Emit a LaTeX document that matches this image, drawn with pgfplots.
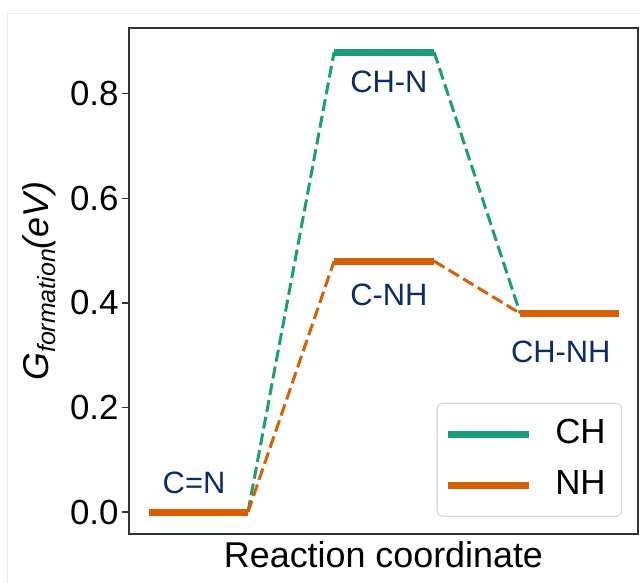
\documentclass[border=0pt]{standalone}
\usepackage{fontspec}
\setmainfont{Liberation Sans}
\usepackage{pgfplots}
\pgfplotsset{compat=1.18}

\definecolor{chgreen}{HTML}{1B9E77}
\definecolor{nhorange}{HTML}{D95F02}
\definecolor{statelabel}{HTML}{0A2C6E}
\definecolor{spine}{HTML}{333333}

\begin{document}
\begin{tikzpicture}[x=1bp,y=1bp]
  \begin{axis}[
    name=ax,
    scale only axis, width=509bp, height=506bp,
    xmin=-0.202, xmax=4.94,
    ymin=-0.042, ymax=0.926,
    axis line style={spine, line width=1.3bp},
    xtick=\empty,
    ytick={0,0.2,0.4,0.6,0.8},
    yticklabel style={/pgf/number format/fixed, /pgf/number format/fixed zerofill,
      /pgf/number format/precision=1, font=\fontsize{35}{42}\selectfont},
    /pgf/number format/assume math mode=true,
    ytick pos=left, tick align=outside,
    major tick length=7bp,
    tick style={spine, line width=1.3bp},
    every axis y label/.style={at={(axis description cs:-0.159,0.5)}, rotate=90, anchor=base},
    every axis x label/.style={at={(axis description cs:0.5,-0.067)}, anchor=base},
    ylabel={\fontsize{36}{42}\selectfont\textit{G}{\fontsize{25}{30}\selectfont\raisebox{-7bp}{\textit{formation}}}\textit{(eV)}},
    xlabel={\fontsize{36}{42}\selectfont Reaction coordinate},
    unbounded coords=jump,
    legend style={at={(axis description cs:0.969,0.034)}, anchor=south east,
      draw=black!15, line width=1.2bp, rounded corners=5bp,
      font=\fontsize{35}{42}\selectfont,
      inner xsep=7bp, inner ysep=15bp, row sep=19bp,
      nodes={inner sep=0pt, text height=25bp, text depth=7bp},
      /tikz/every odd column/.append style={column sep=23bp}},
    legend cell align=left,
    legend image code/.code={\draw[#1, line width=7bp] (0bp,0bp) -- (81bp,0bp);},
  ]
    % transitions (dashed)
    \addplot[chgreen, line width=3bp, dash pattern=on 12bp off 5bp, forget plot]
      coordinates {(1,0) (1.87,0.88) (nan,nan) (2.88,0.88) (3.75,0.38)};
    \addplot[nhorange, line width=3bp, dash pattern=on 12bp off 5bp, forget plot]
      coordinates {(1,0) (1.87,0.48) (nan,nan) (2.88,0.48) (3.75,0.38)};
    % energy levels
    \addplot[chgreen, line width=7bp]
      coordinates {(0,0) (1,0) (nan,nan) (1.87,0.88) (2.88,0.88) (nan,nan) (3.75,0.38) (4.75,0.38)};
    \addlegendentry{CH\kern9bp}
    \addplot[nhorange, line width=7bp]
      coordinates {(0,0) (1,0) (nan,nan) (1.87,0.48) (2.88,0.48) (nan,nan) (3.75,0.38) (4.75,0.38)};
    \addlegendentry{NH\kern9bp}

    % state labels
    \begin{scope}[every node/.style={text=statelabel, font=\fontsize{31}{36}\selectfont, anchor=base, inner sep=0pt}]
      \node at (axis cs:0.455,0.036) {C=N};
      \node at (axis cs:2.424,0.802) {CH-N};
      \node at (axis cs:2.424,0.396) {C-NH};
      \node at (axis cs:4.16,0.287) {CH-NH};
    \end{scope}
    \coordinate (bl) at (rel axis cs:0,0);
  \end{axis}
  % page frame, fixed around the axis box
  \pgfresetboundingbox
  \path[use as bounding box] ([shift={(-129,-49)}]bl) rectangle ([shift={(511,534)}]bl);
  \draw[black!7, line width=1bp] ([shift={(-121,-49)}]bl) -- ([shift={(-121,520)}]bl) -- ([shift={(511,520)}]bl);
\end{tikzpicture}
\end{document}
